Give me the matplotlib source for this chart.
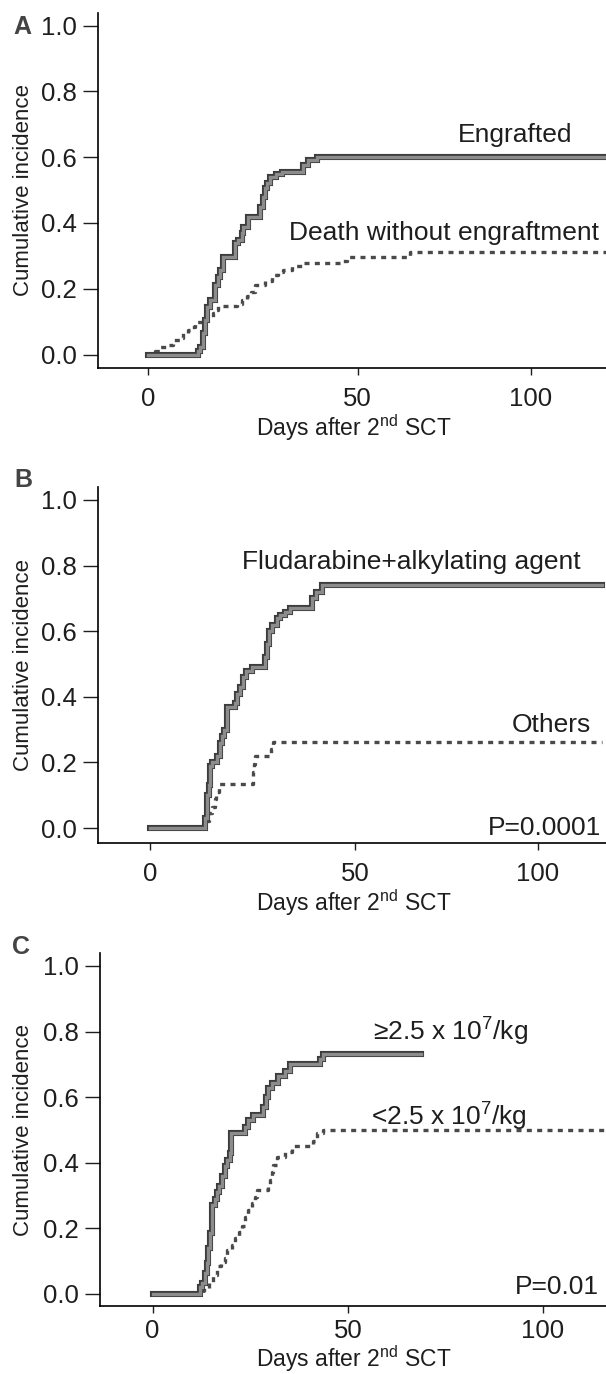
import numpy as np
import matplotlib
matplotlib.use('Agg')
import matplotlib.pyplot as plt
import matplotlib.patheffects as pe
from matplotlib import font_manager

names = {f.name for f in font_manager.fontManager.ttflist}
base = 'Liberation Sans Narrow' if 'Liberation Sans Narrow' in names else 'Liberation Sans'
plt.rcParams['font.family'] = [base, 'DejaVu Sans']
plt.rcParams['mathtext.fontset'] = 'custom'
plt.rcParams['mathtext.rm'] = base
plt.rcParams['mathtext.it'] = base
plt.rcParams['mathtext.bf'] = base

# ---- data (days, cumulative incidence) ----
a_eng_t = [0, 12.0, 12.4, 13.2, 13.6, 14.0, 14.8, 16.0, 16.8, 17.2, 18.0, 20.8, 21.6, 22.4,
           22.8, 23.9, 26.7, 27.5, 27.9, 28.5, 29.1, 30.5, 31.9, 37.0, 38.2, 40.2, 121.6]
a_eng_y = [0, 0.012, 0.024, 0.064, 0.105, 0.145, 0.166, 0.211, 0.236, 0.257, 0.297, 0.338, 0.348,
           0.368, 0.388, 0.419, 0.449, 0.48, 0.505, 0.52, 0.54, 0.548, 0.556, 0.576, 0.591, 0.60, 0.60]
a_death_t = [0, 1.7, 2.9, 4.9, 6.1, 7.7, 8.5, 9.7, 10.1, 11.3, 13.5, 15.6, 16.2, 16.8, 21.2, 22.5,
             23.6, 24.6, 25.5, 27.9, 29.5, 31.0, 32.3, 34.3, 36.7, 45.8, 47.4, 65.1, 121.6]
a_death_y = [0, 0.012, 0.022, 0.030, 0.044, 0.050, 0.064, 0.074, 0.085, 0.100, 0.110, 0.125, 0.135,
             0.148, 0.155, 0.165, 0.178, 0.19, 0.21, 0.222, 0.242, 0.25, 0.258, 0.268, 0.278, 0.285,
             0.295, 0.312, 0.312]

b_flu_t = [0, 13.3, 13.8, 14.0, 14.3, 14.6, 15.0, 16.3, 17.0, 17.5, 18.0, 18.7, 20.7, 21.3, 22.0,
           22.8, 23.5, 24.8, 28.0, 28.5, 29.0, 29.8, 31.0, 31.7, 33.0, 34.1, 39.4, 40.5, 41.9, 117.5]
b_flu_y = [0, 0.03, 0.06, 0.10, 0.13, 0.19, 0.20, 0.22, 0.26, 0.28, 0.30, 0.37, 0.38, 0.41, 0.43,
           0.46, 0.48, 0.49, 0.52, 0.56, 0.60, 0.62, 0.64, 0.65, 0.66, 0.67, 0.70, 0.72, 0.74, 0.74]
b_oth_t = [0, 13.0, 14.5, 15.2, 15.8, 16.2, 16.8, 25.0, 25.2, 25.4, 25.6, 29.6, 29.9, 117.5]
b_oth_y = [0, 0.02, 0.045, 0.065, 0.088, 0.11, 0.135, 0.15, 0.17, 0.195, 0.22, 0.24, 0.262, 0.262]

c_hi_t = [0, 12.2, 12.6, 13.4, 14.0, 14.2, 14.7, 15.1, 16.0, 16.4, 17.0, 17.7, 18.5, 19.0, 19.8,
          20.2, 23.7, 24.5, 25.8, 28.3, 29.0, 29.6, 30.5, 32.0, 34.0, 35.2, 42.8, 43.6, 68.7]
c_hi_y = [0, 0.02, 0.035, 0.065, 0.095, 0.14, 0.185, 0.27, 0.29, 0.31, 0.33, 0.36, 0.39, 0.41,
          0.43, 0.49, 0.51, 0.53, 0.546, 0.57, 0.60, 0.628, 0.643, 0.665, 0.68, 0.70, 0.715, 0.732, 0.732]
c_lo_t = [0, 13.0, 14.5, 15.5, 16.4, 17.5, 18.5, 19.0, 20.3, 21.1, 22.0, 23.0, 23.7, 24.5, 25.4,
          26.2, 26.6, 29.6, 30.1, 30.5, 30.9, 31.8, 33.9, 35.6, 41.1, 42.0, 43.5, 116.2]
c_lo_y = [0, 0.012, 0.035, 0.058, 0.084, 0.098, 0.11, 0.134, 0.149, 0.17, 0.19, 0.206, 0.236, 0.256,
          0.277, 0.297, 0.317, 0.327, 0.347, 0.372, 0.393, 0.418, 0.434, 0.45, 0.466, 0.49, 0.50, 0.50]

y_ticks = [0, 0.2, 0.4, 0.6, 0.8, 1.0]
y_labels = ['0.0', '0.2', '0.4', '0.6', '0.8', '1.0']
x_ticks = [0, 50, 100]
x_labels = ['0', '50', '100']

# ---- layout ----
W, H = 606, 1374
fig = plt.figure(figsize=(W / 100, H / 100), dpi=100)


def piecewise(knots):
    p0, p1, p2 = knots

    def fwd(d):
        d = np.asarray(d, dtype=float)
        return np.where(d < 50, p0 + d * (p1 - p0) / 50, p1 + (d - 50) * (p2 - p1) / 50)

    def inv(q):
        q = np.asarray(q, dtype=float)
        return np.where(q < p1, (q - p0) * 50 / (p1 - p0), 50 + (q - p1) * 50 / (p2 - p1))
    return fwd, inv


def panel(left, top, bottom, knots, ylim, letter, letter_xy, xlab_gap, xpad=9):
    ax = fig.add_axes([left / W, 1 - bottom / H, (W - left) / W, (bottom - top) / H])
    fwd, inv = piecewise(knots)
    ax.set_xscale('function', functions=(fwd, inv))
    ax.set_xlim(float(inv(left)), float(inv(W)))
    ax.set_ylim(*ylim)
    ax.spines[['top', 'right']].set_visible(False)
    for s in ('left', 'bottom'):
        ax.spines[s].set_linewidth(1.2)
    ax.set_yticks(y_ticks, y_labels)
    ax.set_xticks(x_ticks, x_labels)
    ax.xaxis.set_minor_locator(matplotlib.ticker.NullLocator())
    ax.tick_params(axis='y', length=11, width=1, pad=4, labelsize=18.5, colors='#1e1e1e')
    ax.tick_params(axis='x', length=5, width=1, pad=xpad, labelsize=18.5, colors='#1e1e1e')
    ax.set_ylabel('Cumulative incidence', fontsize=16, color='#1e1e1e')
    ax.yaxis.label.set_va('center')
    ax.yaxis.set_label_coords((24 - left) / (W - left), 0.5)
    ax.set_xlabel('Days after 2$^{\\mathrm{nd}}$ SCT', fontsize=16.5, color='#1e1e1e')
    ax.xaxis.label.set_va('center')
    ax.xaxis.set_label_coords((354 - left) / (W - left), -xlab_gap / (bottom - top))
    fig.text(letter_xy[0] / W, 1 - letter_xy[1] / H, letter, fontsize=18,
             fontweight='bold', color='#444444', ha='center', va='center')
    return ax


def solid(ax, t, y):
    ax.step(t, y, where='post', color='#8c8c8c', lw=2.4, solid_joinstyle='miter',
            path_effects=[pe.Stroke(linewidth=4.4, foreground='#3c3c3c'), pe.Normal()], zorder=3)


def dashed(ax, t, y):
    ax.step(t, y, where='post', color='#4a4a4a', lw=2.4, linestyle=(0, (1.5, 1.6)),
            dash_capstyle='butt', zorder=2)


txt = dict(fontsize=19, color='#1e1e1e')

# A
ax = panel(97.7, 12.7, 367.7, (147.7, 357.7, 531), (-0.040, 1.039), 'A', (22, 27), 60)
solid(ax, a_eng_t, a_eng_y)
dashed(ax, a_death_t, a_death_y)
ax.text(95.4, 0.667, 'Engrafted', ha='center', va='center', **txt)
ax.text(119.6, 0.369, 'Death without engraftment', ha='right', va='center', **txt)

# B
ax = panel(97.7, 486.7, 843, (150, 355, 538), (-0.0457, 1.0405), 'B', (23, 480), 60)
solid(ax, b_flu_t, b_flu_y)
dashed(ax, b_oth_t, b_oth_y)
ax.text(65.5, 0.81, 'Fludarabine+alkylating agent', ha='center', va='center', **txt)
ax.text(103.6, 0.315, 'Others', ha='center', va='center', **txt)
ax.text(117.2, 0.0, 'P=0.0001', ha='right', va='center', **txt)

# C
ax = panel(99.7, 953, 1306, (152.5, 348, 543), (-0.0366, 1.0396), 'C', (21, 947), 53, xpad=4)
solid(ax, c_hi_t, c_hi_y)
dashed(ax, c_lo_t, c_lo_y)
ax.text(56.4, 0.80, '≥2.5 x 10$^{\\mathrm{7}}$/kg', ha='left', va='center', **txt)
ax.text(55.9, 0.54, '<2.5 x 10$^{\\mathrm{7}}$/kg', ha='left', va='center', **txt)
ax.text(114.4, 0.02, 'P=0.01', ha='right', va='center', **txt)

fig.savefig('out.png', dpi=100)
